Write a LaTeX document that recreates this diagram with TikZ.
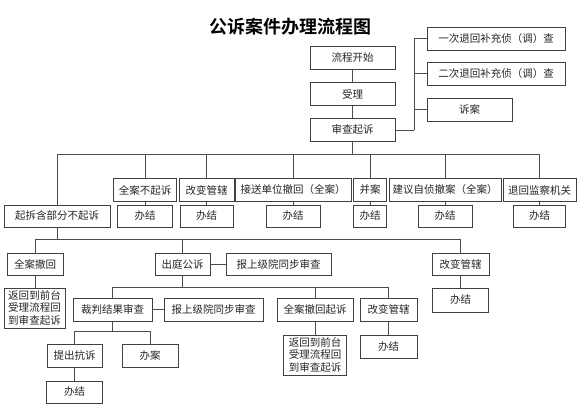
\documentclass[tikz,border=0pt]{standalone}
\usepackage{fontspec}
\setmainfont{Noto Sans CJK SC}
\newfontfamily\cjktitle{Noto Sans CJK SC}[BoldFont={* Bold}]
\begin{document}
\begin{tikzpicture}[x=1pt,y=-1pt,
  bx/.style={draw=black!75,line width=0.9pt,inner sep=0pt,text=black!85,
    font=\fontsize{10.5}{12.5}\selectfont,minimum height=23pt},
  ln/.style={draw=black!70,line width=0.8pt}]
\useasboundingbox[fill=white] (0,0) rectangle (580,408);
\node[font=\cjktitle\bfseries\fontsize{18}{20}\selectfont] (title) at (290,27) {公诉案件办理流程图};
% main column
\node[bx,minimum width=85pt] (start) at (352.5,57.5) {流程开始};
\node[bx,minimum width=85pt] (shouli) at (352.5,94) {受理};
\node[bx,minimum width=85pt] (shencha) at (352.5,130) {审查起诉};
% right column
\node[bx,minimum width=138pt] (r1) at (496,38.5) {一次退回补充侦（调）查};
\node[bx,minimum width=138pt] (r2) at (496,73.5) {二次退回补充侦（调）查};
\node[bx,minimum width=85pt] (r3) at (469.5,109.5) {诉案};
% row 1
\node[bx,minimum width=63pt] (a1) at (145,190) {全案不起诉};
\node[bx,minimum width=55pt] (a2) at (206.5,190) {改变管辖};
\node[bx,minimum width=116pt] (a3) at (293,190) {接送单位撤回（全案）};
\node[bx,minimum width=33pt] (a4) at (370,190) {并案};
\node[bx,minimum width=112pt] (a5) at (445,190) {建议自侦撤案（全案）};
\node[bx,minimum width=73pt] (a6) at (539.5,190) {退回监察机关};
% row 2
\node[bx,minimum width=106pt,minimum height=22pt] (b0) at (57,216) {起拆含部分不起诉};
\node[bx,minimum width=55pt,minimum height=22pt] (b1) at (145,216) {办结};
\node[bx,minimum width=53pt,minimum height=22pt] (b2) at (206.5,216) {办结};
\node[bx,minimum width=54pt,minimum height=22pt] (b3) at (293,216) {办结};
\node[bx,minimum width=33pt,minimum height=22pt] (b4) at (370,216) {办结};
\node[bx,minimum width=54pt,minimum height=22pt] (b5) at (445,216) {办结};
\node[bx,minimum width=52pt,minimum height=22pt] (b6) at (539.5,216) {办结};
% row 3
\node[bx,minimum width=56pt,minimum height=22pt] (c1) at (35,264) {全案撤回};
\node[bx,minimum width=55pt,minimum height=22pt] (c2) at (182.5,264) {出庭公诉};
\node[bx,minimum width=105pt,minimum height=22pt] (c3) at (278.5,264) {报上级院同步审查};
\node[bx,minimum width=57pt,minimum height=22pt] (c4) at (460.5,264) {改变管辖};
% row 4
\node[bx,minimum width=61pt,minimum height=40pt,align=center,
  font=\fontsize{10.5}{12.5}\selectfont] (d1) at (34.5,308) {返回到前台\\受理流程回\\到审查起诉};
\node[bx,minimum width=56pt,minimum height=24pt] (d2) at (460.5,300) {办结};
\node[bx,minimum width=79pt] (e1) at (112.5,309.5) {裁判结果审查};
\node[bx,minimum width=99pt] (e2) at (213.5,309.5) {报上级院同步审查};
\node[bx,minimum width=76pt] (e3) at (315,309.5) {全案撤回起诉};
\node[bx,minimum width=57pt] (e4) at (388.5,309.5) {改变管辖};
% row 5
\node[bx,minimum width=55pt] (f1) at (74.5,355.5) {提出抗诉};
\node[bx,minimum width=56pt] (f2) at (150,355.5) {办案};
\node[bx,minimum width=63pt,minimum height=40pt,align=center] (f3) at (315,355) {返回到前台\\受理流程回\\到审查起诉};
\node[bx,minimum width=57pt] (f4) at (388.5,346.5) {办结};
% row 6
\node[bx,minimum width=56pt,minimum height=22pt] (g1) at (74.5,392) {办结};
% bus coordinates
\coordinate (rb) at (414,130);
\coordinate (bus1) at (352.5,154);
\coordinate (bus2) at (57,239);
\coordinate (bus3) at (182.5,287);
\coordinate (bus4) at (112.5,331);
% connectors
\draw[ln] (start) -- (shouli);
\draw[ln] (shouli) -- (shencha);
\draw[ln] (shencha.east) -- (rb);
\draw[ln] (rb) |- (r1.west);
\draw[ln] (rb) |- (r2.west);
\draw[ln] (rb) |- (r3.west);
\draw[ln] (shencha.south) -- (bus1);
\foreach \n in {b0,a1,a2,a3,a4,a5,a6} \draw[ln] (bus1) -| (\n.north);
\foreach \i in {1,...,6} \draw[ln] (a\i) -- (b\i);
\draw[ln] (b0.south) -- (bus2);
\foreach \n in {c1,c2,c4} \draw[ln] (bus2) -| (\n.north);
\draw[ln] (c1.south) -- (c1.south |- d1.north);
\draw[ln] (c2) -- (c3);
\draw[ln] (c4) -- (d2);
\draw[ln] (c2.south) -- (bus3);
\foreach \n in {e1,e3,e4} \draw[ln] (bus3) -| (\n.north);
\draw[ln] (e1) -- (e2);
\draw[ln] (e1.south) -- (bus4);
\foreach \n in {f1,f2} \draw[ln] (bus4) -| (\n.north);
\draw[ln] (f1) -- (g1);
\draw[ln] (e3) -- (f3);
\draw[ln] (e4) -- (f4);
\end{tikzpicture}
\end{document}
